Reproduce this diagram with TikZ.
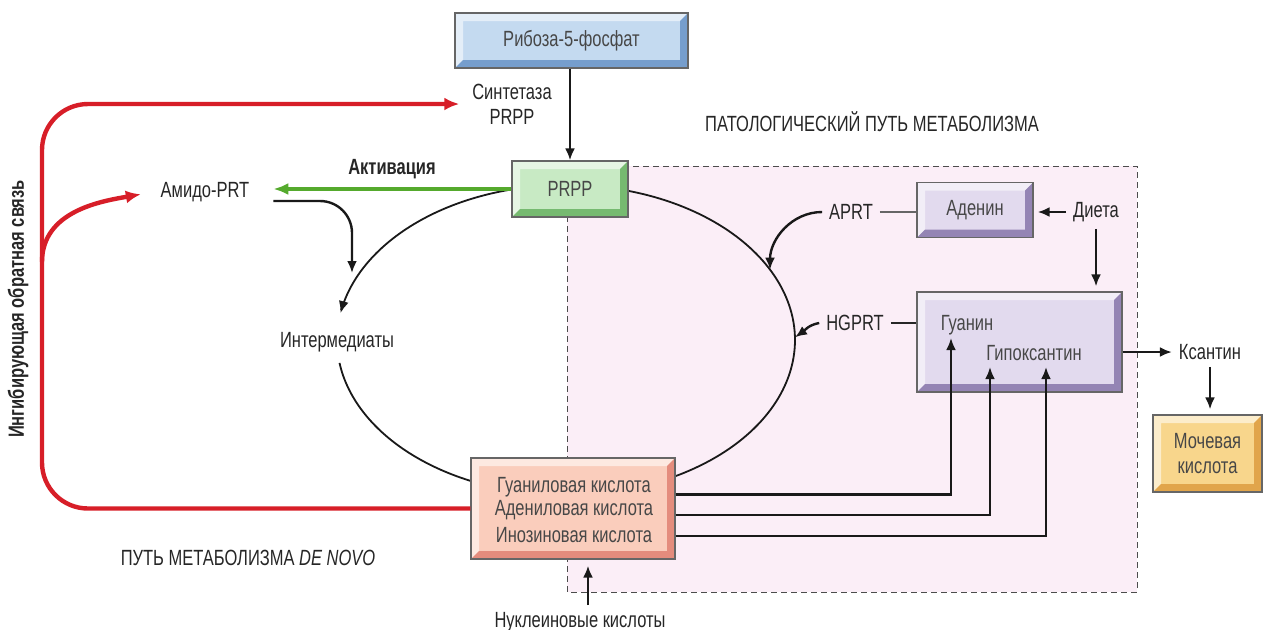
\documentclass[tikz,border=0pt]{standalone}
\usepackage{fontspec}
\setmainfont[FakeStretch=0.75]{Liberation Sans}
\usepackage{tikz}
\usetikzlibrary{positioning,calc,arrows.meta}
\usepackage{xcolor}

\definecolor{riboblue}{RGB}{196,218,240}
\definecolor{ribobluedk}{RGB}{118,158,205}
\definecolor{prppgreen}{RGB}{200,234,196}
\definecolor{prppgreendk}{RGB}{118,186,112}
\definecolor{lilac}{RGB}{226,218,238}
\definecolor{lilacdk}{RGB}{148,132,180}
\definecolor{salmon}{RGB}{250,205,188}
\definecolor{salmondk}{RGB}{228,140,125}
\definecolor{uricyellow}{RGB}{248,214,140}
\definecolor{uricyellowdk}{RGB}{225,165,75}
\definecolor{pathopink}{RGB}{251,238,247}
\definecolor{feedred}{RGB}{215,30,40}
\definecolor{actgreen}{RGB}{85,170,45}

\tikzset{
  bevel/.style 2 args={rectangle, draw=black!60, line width=0.6pt, fill=#1,
    text=black!72, align=center, inner sep=0pt,
    path picture={
      \path (path picture bounding box.south west) coordinate (bv-sw)
            (path picture bounding box.north east) coordinate (bv-ne);
      \fill[#1!45!white] (bv-sw) |- (bv-ne) -- ++(-4pt,-4pt) -| ([shift={(4pt,4pt)}]bv-sw) -- cycle;
      \fill[#2] (bv-sw) -| (bv-ne) -- ++(-4pt,-4pt) |- ([shift={(4pt,4pt)}]bv-sw) -- cycle;
    }},
  lbl/.style={text=black!85, align=center},
  arr/.style={-{Latex[length=6pt,width=5pt]}, line width=1.2pt, black!90},
  ringline/.style={line width=0.9pt, black!90},
  fbred/.style={-{Latex[length=7.5pt,width=6.5pt]}, line width=2.2pt, feedred},
  actarrow/.style={-{Latex[length=7.5pt,width=6pt]}, line width=2pt, actgreen},
}

\begin{document}
\begin{tikzpicture}[x=0.5pt,y=-0.5pt, font=\fontsize{11}{12.5}\selectfont]
\useasboundingbox (0,0) rectangle (1264,629);

\fill[pathopink] (567,166) rectangle (1137,592);
\draw[black!70, line width=0.5pt, dash pattern=on 3pt off 2pt] (567,166) rectangle (1137,592);

\coordinate (ring) at (566,340);
\draw[ringline, -{Latex[length=6pt,width=5pt]}] plot[domain=258:190, samples=60] ({566+229*cos(\x)},{340+155*sin(\x)});
\draw[ringline] plot[domain=171.5:112, samples=60] ({566+229*cos(\x)},{340+155*sin(\x)});
\draw[ringline] plot[domain=-80:62, samples=90] ({566+229*cos(\x)},{340+155*sin(\x)});

\node[bevel={riboblue}{ribobluedk}, minimum width=116.5pt, minimum height=27.5pt] (ribose) at (571.5,40.5) {Рибоза-5-фосфат};
\node[bevel={prppgreen}{prppgreendk}, minimum width=58pt, minimum height=28pt] (prpp) at (570,189) {PRPP};
\node[bevel={lilac}{lilacdk}, minimum width=58pt, minimum height=27.5pt] (adenin) at (975,210) {Аденин};
\node[bevel={lilac}{lilacdk}, minimum width=102.5pt, minimum height=50pt] (gbox) at (1019.5,342) {};
\node[bevel={salmon}{salmondk}, minimum width=102pt, minimum height=50.5pt] (nucl) at (573,508.5) {};
\node[bevel={uricyellow}{uricyellowdk}, minimum width=54.5pt, minimum height=38.5pt] (uric) at (1207.5,453.5) {Мочевая\\кислота};

\node[text=black!72] (gmp) at (574,487) {Гуаниловая кислота};
\node[text=black!72] (amp) at (574,510) {Адениловая кислота};
\node[text=black!72] (imp) at (574,535) {Инозиновая кислота};
\node[text=black!72] (guanin) at (967,325) {Гуанин};
\node[text=black!72] (hypox) at (1034,353) {Гипоксантин};

\node[lbl] (synth) at (512,104) {Синтетаза\\PRPP};
\node[lbl, font=\fontsize{11}{12.5}\selectfont\bfseries] (aktiv) at (392,169) {Активация};
\node[lbl] (amido) at (205,192) {Амидо-PRT};
\node[lbl] (interm) at (337,342) {Интермедиаты};
\node[lbl] (aprt) at (851,212) {APRT};
\node[lbl] (hgprt) at (855,323) {HGPRT};
\node[lbl] (dieta) at (1096,212) {Диета};
\node[lbl] (xant) at (1210,352) {Ксантин};
\node[lbl] (nucleic) at (580,622) {Нуклеиновые кислоты};
\node[lbl] (patho) at (872,122) {ПАТОЛОГИЧЕСКИЙ ПУТЬ МЕТАБОЛИЗМА};
\node[lbl] (denovo) at (248,558) {ПУТЬ МЕТАБОЛИЗМА \textit{DE NOVO}};
\node[lbl, rotate=90, font=\fontsize{11}{12.5}\selectfont\bfseries] (fbtext) at (18,309) {Ингибирующая обратная связь};

\coordinate (aprttip) at ($(ring)+(-27:229 and 155)$);
\coordinate (hgtip) at ($(ring)+(-1:229 and 155)$);
\coordinate (amidotip) at (352,273);
\coordinate (guatip) at (951,338);
\coordinate (hyptipa) at (990,367);
\coordinate (hyptipb) at (1046,367);
\coordinate (fbtop) at (42,104);
\coordinate (fbmid) at (42,262);

\draw[arr] (prpp.north |- ribose.south) -- (prpp.north);
\draw[actarrow, shorten >=8.5pt] (prpp.west) -- (prpp.west -| amido.east);
\draw[arr, rounded corners=16pt] ($(amido.east)+(17,9)$) -| (amidotip);
\draw[arr] (aprt.west) to[out=180,in=90] (aprttip);
\draw[arr] (hgprt.west) to[out=190,in=35] (hgtip);
\draw[line width=1.2pt, black!60] (aprt.east) -- (aprt.east -| adenin.west);
\draw[line width=1.2pt, black!85] (hgprt.east) -- (hgprt.east -| gbox.west);
\draw[arr, shorten >=2pt] (dieta.west) -- (dieta.west -| adenin.east);
\draw[arr, shorten >=2.5pt] (dieta.south) -- (dieta.south |- gbox.north);
\draw[arr] (gbox.east |- xant.west) -- (xant.west);
\draw[arr, shorten >=2.5pt] (xant.south) -- (xant.south |- uric.north);
\draw[arr] ($(nucl.east)+(0,-14)$) -| (guatip);
\draw[arr] ($(nucl.east)+(0,6.5)$) -| (hyptipa);
\draw[arr] ($(nucl.east)+(0,27.5)$) -| (hyptipb);
\draw[arr, shorten >=3pt] ($(nucleic.north)+(8,0)$) -- ($(nucleic.north |- nucl.south)+(8,0)$);

\draw[fbred, rounded corners=23pt, shorten >=3pt] (nucl.west) -| (fbtop) -- (synth.west);
\draw[fbred, shorten >=6.5pt] (fbmid) to[out=90,in=190] (amido.west);
\end{tikzpicture}
\end{document}
